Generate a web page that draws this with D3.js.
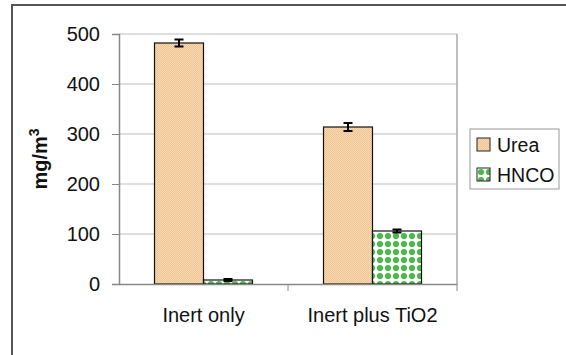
<!DOCTYPE html>
<html>
<head>
<meta charset="utf-8">
<script src="https://cdn.jsdelivr.net/npm/d3@7"></script>
<style>
  body { margin: 0; background: #fff; }
  svg { display: block; font-family: "Liberation Sans", Arial, sans-serif; }
</style>
</head>
<body>
<svg id="chart" width="566" height="355"></svg>
<script>
// chart data
const categories = ['Inert only', 'Inert plus TiO2'];
const seriesNames = ['Urea', 'HNCO'];
const ureaValues = [482, 314];
const ureaErrors = [7, 8];
const hncoValues = [8, 106];
const hncoErrors = [2, 3];
const yTicks = [0, 100, 200, 300, 400, 500];

const svg = d3.select('#chart');
const plot = { left: 119, right: 457, top: 34, bottom: 284 };

// fill patterns
const defs = svg.append('defs');
const ureaPat = defs.append('pattern')
    .attr('id', 'pat-urea')
    .attr('width', 2).attr('height', 2)
    .attr('patternUnits', 'userSpaceOnUse');
ureaPat.append('rect').attr('width', 2).attr('height', 2).attr('fill', '#f8d9b2');
ureaPat.append('rect').attr('width', 1).attr('height', 1).attr('fill', '#efc494');
ureaPat.append('rect').attr('x', 1).attr('y', 1).attr('width', 1).attr('height', 1).attr('fill', '#efc494');

const hncoPat = defs.append('pattern')
    .attr('id', 'pat-hnco')
    .attr('width', 8).attr('height', 8)
    .attr('patternUnits', 'userSpaceOnUse');
hncoPat.append('rect').attr('width', 8).attr('height', 8).attr('fill', '#ffffff');
hncoPat.append('circle').attr('cx', 4).attr('cy', 4).attr('r', 3.1).attr('fill', '#4cb84c');

const fills = { Urea: 'url(#pat-urea)', HNCO: 'url(#pat-hnco)' };

// outer chart frame (runs off the picture on right and bottom)
svg.append('rect')
    .attr('x', 12).attr('y', 5)
    .attr('width', 600).attr('height', 400)
    .attr('fill', 'none')
    .attr('stroke', '#555')
    .attr('stroke-width', 2);

// scales
const x0 = d3.scaleBand()
    .domain(categories)
    .range([plot.left, plot.right])
    .padding(0);
const x1 = d3.scaleBand()
    .domain(seriesNames)
    .range([0, x0.bandwidth()])
    .paddingInner(0)
    .paddingOuter((x0.bandwidth() / 49 - 2) / 2);
const y = d3.scaleLinear().domain([0, 500]).range([plot.bottom, plot.top]);

// gridlines
svg.append('g')
    .selectAll('line')
    .data(yTicks.filter(t => t > 0))
    .enter()
    .append('line')
    .attr('x1', plot.left).attr('x2', plot.right)
    .attr('y1', d => y(d)).attr('y2', d => y(d))
    .attr('stroke', '#bdbdbd')
    .attr('stroke-width', 1);

// plot area right border
svg.append('line')
    .attr('x1', plot.right).attr('x2', plot.right)
    .attr('y1', plot.top).attr('y2', plot.bottom)
    .attr('stroke', '#a8a8a8')
    .attr('stroke-width', 1.5);

// bars
const rows = categories.map((c, i) => ({
    cat: c,
    bars: [
        { name: 'Urea', value: ureaValues[i], err: ureaErrors[i] },
        { name: 'HNCO', value: hncoValues[i], err: hncoErrors[i] }
    ]
}));

const groups = svg.append('g')
    .selectAll('g')
    .data(rows)
    .enter()
    .append('g')
    .attr('transform', d => `translate(${x0(d.cat)},0)`);

groups.selectAll('rect')
    .data(d => d.bars)
    .enter()
    .append('rect')
    .attr('x', d => x1(d.name))
    .attr('y', d => y(d.value))
    .attr('width', x1.bandwidth())
    .attr('height', d => y(0) - y(d.value))
    .attr('fill', d => fills[d.name])
    .attr('stroke', '#111')
    .attr('stroke-width', 1.2);

// error bars
const errG = groups.selectAll('g.err')
    .data(d => d.bars)
    .enter()
    .append('g')
    .attr('class', 'err')
    .attr('stroke', '#000')
    .attr('stroke-width', 2);
const cx = d => x1(d.name) + x1.bandwidth() / 2;
errG.append('line')
    .attr('x1', cx).attr('x2', cx)
    .attr('y1', d => y(d.value + d.err)).attr('y2', d => y(d.value - d.err));
errG.append('line')
    .attr('x1', d => cx(d) - 4.5).attr('x2', d => cx(d) + 4.5)
    .attr('y1', d => y(d.value + d.err)).attr('y2', d => y(d.value + d.err));
errG.append('line')
    .attr('x1', d => cx(d) - 4.5).attr('x2', d => cx(d) + 4.5)
    .attr('y1', d => y(d.value - d.err)).attr('y2', d => y(d.value - d.err));

// y axis
const yAxis = svg.append('g')
    .attr('transform', `translate(${plot.left},0)`)
    .call(d3.axisLeft(y).tickValues(yTicks).tickSize(7).tickPadding(12));
yAxis.select('.domain').attr('stroke', '#888').attr('stroke-width', 1.5);
yAxis.selectAll('.tick line').attr('stroke', '#888');
yAxis.selectAll('.tick text')
    .attr('font-size', 20)
    .attr('font-family', '"Liberation Sans", Arial, sans-serif')
    .attr('fill', '#111');

// x axis
const xAxis = svg.append('g')
    .attr('transform', `translate(0,${plot.bottom})`)
    .call(d3.axisBottom(x0).tickSize(0).tickPadding(24));
xAxis.select('.domain').attr('stroke', '#888').attr('stroke-width', 1.5);
xAxis.selectAll('.tick text')
    .attr('font-size', 20)
    .attr('font-family', '"Liberation Sans", Arial, sans-serif')
    .attr('fill', '#111');
// category separator ticks
xAxis.append('g')
    .selectAll('line')
    .data(categories)
    .enter()
    .append('line')
    .attr('x1', d => x0(d) + x0.bandwidth()).attr('x2', d => x0(d) + x0.bandwidth())
    .attr('y1', 0).attr('y2', 7)
    .attr('stroke', '#888');

// y label
const yLabel = svg.append('text')
    .attr('transform', `translate(47,${(plot.top + plot.bottom) / 2}) rotate(-90)`)
    .attr('text-anchor', 'middle')
    .attr('font-size', 20)
    .attr('font-weight', 'bold')
    .attr('fill', '#111');
yLabel.append('tspan').text('mg/m');
yLabel.append('tspan').attr('dy', -8).attr('font-size', 14).text('3');

// legend
const legend = svg.append('g').attr('transform', 'translate(470,129)');
legend.append('rect')
    .attr('width', 89).attr('height', 60)
    .attr('fill', '#fff')
    .attr('stroke', '#aaa')
    .attr('stroke-width', 1.2);
const items = legend.selectAll('g.item')
    .data(seriesNames)
    .enter()
    .append('g')
    .attr('class', 'item')
    .attr('transform', (d, i) => `translate(7,${9 + i * 30})`);
items.append('rect')
    .attr('width', 13).attr('height', 13)
    .attr('fill', d => fills[d])
    .attr('stroke', '#222')
    .attr('stroke-width', 1);
items.append('text')
    .attr('x', 20).attr('y', 14)
    .attr('font-size', 19.5)
    .attr('fill', '#111')
    .text(d => d);
</script>
</body>
</html>
